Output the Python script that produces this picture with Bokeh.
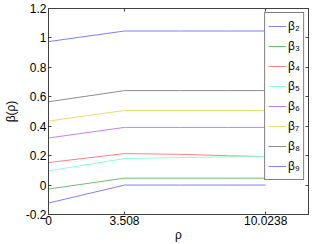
from bokeh.plotting import figure
from bokeh.models import (Range1d, FixedTicker, LinearAxis, Legend, LegendItem)
from bokeh.embed import file_html
from bokeh.resources import INLINE

# ---- data ----
rho = [0.0, 3.508, 6.05, 8.32, 10.0238]
beta2 = [-0.122, 0.000, 0.000, 0.000, 0.000]
beta3 = [-0.027, 0.047, 0.047, 0.047, 0.047]
beta4 = [0.153, 0.214, 0.209, 0.199, 0.194]
beta5 = [0.097, 0.180, 0.187, 0.191, 0.194]
beta6 = [0.320, 0.392, 0.392, 0.392, 0.392]
beta7 = [0.435, 0.507, 0.507, 0.507, 0.507]
beta8 = [0.566, 0.642, 0.642, 0.642, 0.642]
beta9 = [0.975, 1.047, 1.047, 1.047, 1.047]
series = [beta2, beta3, beta4, beta5, beta6, beta7, beta8, beta9]
names = ["β₂", "β₃", "β₄", "β₅", "β₆", "β₇", "β₈", "β₉"]
colors = ["#7f7fff", "#6fbf6f", "#ff8080", "#8cffd2", "#bf80ff", "#e0e070", "#8c8c8c", "#7f7fff"]

x_ticks = [0, 3.508, 10.0238]
x_labels = ["0", "3.508", "10.0238"]
y_ticks = [-0.2, 0.0, 0.2, 0.4, 0.6, 0.8, 1.0, 1.2]
y_labels = ["-0.2", "0", "0.2", "0.4", "0.6", "0.8", "1", "1.2"]

FONT = "Liberation Sans"
AX = "#404040"

p = figure(width=312, height=244, output_backend="svg", toolbar_location=None,
           x_range=Range1d(0, 12), y_range=Range1d(-0.2, 1.2),
           min_border_left=44, min_border_right=4, min_border_top=8, min_border_bottom=29,
           x_axis_label="ρ", y_axis_label="β(ρ)")
p.grid.visible = False
p.outline_line_color = AX
p.background_fill_color = "white"
p.border_fill_color = "white"

items = []
for ys, nm, c in zip(series, names, colors):
    r = p.line(rho, ys, line_color=c, line_width=1)
    items.append(LegendItem(label=nm, renderers=[r]))

def style(ax, ticks, labels, show):
    ax.ticker = FixedTicker(ticks=ticks, minor_ticks=[])
    ax.major_tick_in = 3
    ax.major_tick_out = 0
    ax.minor_tick_line_color = None
    ax.axis_line_color = AX
    ax.major_tick_line_color = AX
    ax.major_label_text_font = FONT
    ax.major_label_text_color = "black"
    ax.major_label_text_font_size = "12px"
    ax.axis_label_text_font = FONT
    ax.axis_label_text_font_style = "normal"
    ax.axis_label_text_font_size = "12px"
    ax.axis_label_text_color = "black"
    if show:
        ax.major_label_overrides = {t: l for t, l in zip(ticks, labels)}
        ax.major_label_standoff = 1
        ax.axis_label_standoff = 0
    else:
        ax.major_label_overrides = {t: "" for t in ticks}
        ax.major_label_standoff = 0

style(p.xaxis[0], x_ticks, x_labels, True)
style(p.yaxis[0], y_ticks, y_labels, True)
p.yaxis[0].major_label_standoff = 2
p.yaxis[0].axis_label_standoff = 5

top = LinearAxis()
style(top, x_ticks, x_labels, False)
p.add_layout(top, "above")
right = LinearAxis()
style(right, y_ticks, y_labels, False)
p.add_layout(right, "right")

leg = Legend(items=items, location="top_right", margin=4, padding=3, spacing=0,
             label_height=20, label_width=10, glyph_height=20, glyph_width=18, label_standoff=2,
             label_text_font=FONT, label_text_font_size="12px", label_text_color="black",
             border_line_color="black", border_line_width=1,
             background_fill_alpha=1.0)
p.add_layout(leg)

open("out.html", "w").write(file_html(p, INLINE))
